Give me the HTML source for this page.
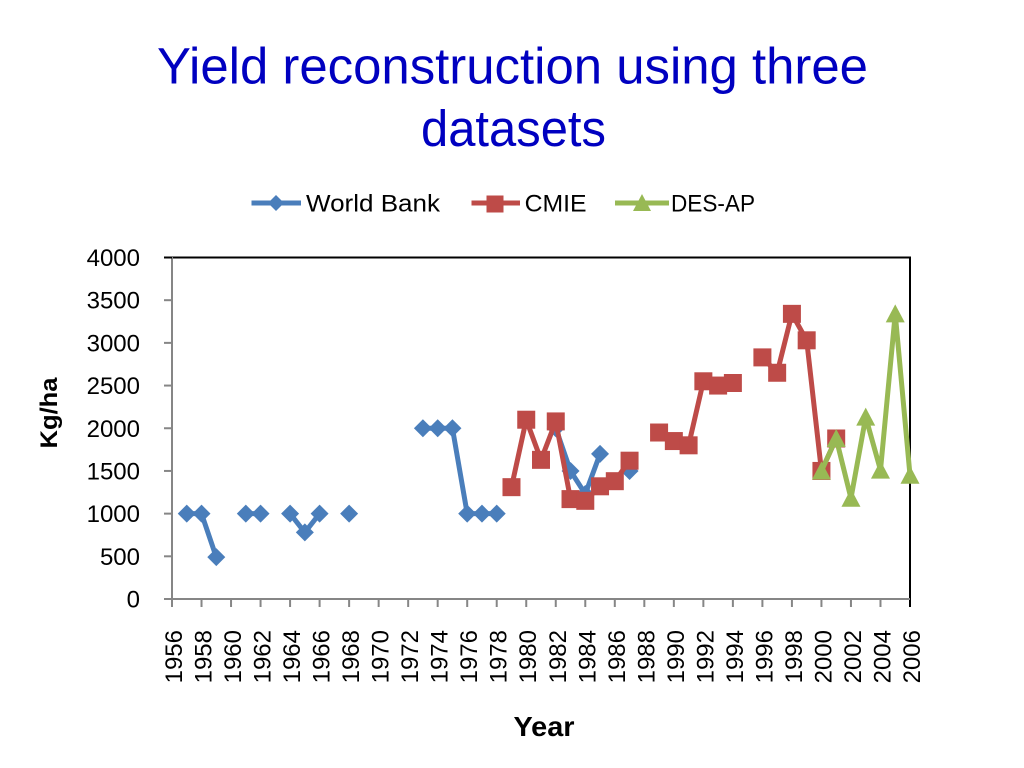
<!DOCTYPE html>
<html><head><meta charset="utf-8"><style>
html,body{margin:0;padding:0;background:#fff;width:1024px;height:768px;overflow:hidden}
svg{display:block}
text{font-family:"Liberation Sans",Arial,sans-serif}
</style></head><body>
<svg width="1024" height="768" viewBox="0 0 1024 768" xmlns="http://www.w3.org/2000/svg">
<defs>
<path id="d" d="M0,-9 L9,0 L0,9 L-9,0Z" fill="#4A7EBB"/>
<rect id="s" x="-9" y="-9" width="18" height="18" fill="#BE4B48"/>
<path id="t" d="M0,-9.5 L9.5,8.5 L-9.5,8.5Z" fill="#98B954"/>
<path id="dl" d="M0,-8 L8,0 L0,8 L-8,0Z" fill="#4A7EBB"/>
<rect id="sl" x="-8.5" y="-8.5" width="17" height="17" fill="#BE4B48"/>
<path id="tl" d="M0,-9 L9,8 L-9,8Z" fill="#98B954"/>
</defs>
<rect width="1024" height="768" fill="#fff"/>
<!-- Title -->
<text x="512.5" y="83.5" font-size="51" fill="#0000C0" text-anchor="middle" textLength="711" lengthAdjust="spacingAndGlyphs">Yield reconstruction using three</text>
<text x="513.5" y="146" font-size="51" fill="#0000C0" text-anchor="middle" textLength="185" lengthAdjust="spacingAndGlyphs">datasets</text>
<!-- Legend -->
<line x1="251.5" y1="203" x2="301" y2="203" stroke="#4A7EBB" stroke-width="5"/>
<use href="#dl" x="276" y="203"/>
<text x="306" y="211.5" font-size="24" fill="#000" textLength="134" lengthAdjust="spacingAndGlyphs">World Bank</text>
<line x1="471.5" y1="203" x2="520" y2="203" stroke="#BE4B48" stroke-width="5"/>
<use href="#sl" x="495" y="204"/>
<text x="524.6" y="211.5" font-size="24" fill="#000" textLength="62" lengthAdjust="spacingAndGlyphs">CMIE</text>
<line x1="615" y1="203" x2="669" y2="203" stroke="#98B954" stroke-width="5"/>
<use href="#tl" x="642" y="203"/>
<text x="671" y="211.5" font-size="24" fill="#000" textLength="84" lengthAdjust="spacingAndGlyphs">DES-AP</text>
<!-- Plot frame -->
<line x1="172" y1="257.5" x2="911" y2="257.5" stroke="#000" stroke-width="2"/>
<line x1="910" y1="257.5" x2="910" y2="607" stroke="#000" stroke-width="2"/>
<line x1="172" y1="257" x2="172" y2="600" stroke="#868686" stroke-width="2"/>
<line x1="171" y1="599" x2="910" y2="599" stroke="#868686" stroke-width="2"/>
<g stroke="#868686" stroke-width="2">
<line x1="164" y1="599" x2="172" y2="599"/>
<line x1="164" y1="556.31" x2="172" y2="556.31"/>
<line x1="164" y1="513.63" x2="172" y2="513.63"/>
<line x1="164" y1="470.94" x2="172" y2="470.94"/>
<line x1="164" y1="428.25" x2="172" y2="428.25"/>
<line x1="164" y1="385.56" x2="172" y2="385.56"/>
<line x1="164" y1="342.88" x2="172" y2="342.88"/>
<line x1="164" y1="300.19" x2="172" y2="300.19"/>
<line x1="164" y1="257.5" x2="172" y2="257.5" stroke="#000"/>
<line x1="172" y1="599" x2="172" y2="607"/>
<line x1="201.52" y1="599" x2="201.52" y2="607"/>
<line x1="231.04" y1="599" x2="231.04" y2="607"/>
<line x1="260.56" y1="599" x2="260.56" y2="607"/>
<line x1="290.08" y1="599" x2="290.08" y2="607"/>
<line x1="319.6" y1="599" x2="319.6" y2="607"/>
<line x1="349.12" y1="599" x2="349.12" y2="607"/>
<line x1="378.64" y1="599" x2="378.64" y2="607"/>
<line x1="408.16" y1="599" x2="408.16" y2="607"/>
<line x1="437.68" y1="599" x2="437.68" y2="607"/>
<line x1="467.2" y1="599" x2="467.2" y2="607"/>
<line x1="496.72" y1="599" x2="496.72" y2="607"/>
<line x1="526.24" y1="599" x2="526.24" y2="607"/>
<line x1="555.76" y1="599" x2="555.76" y2="607"/>
<line x1="585.28" y1="599" x2="585.28" y2="607"/>
<line x1="614.8" y1="599" x2="614.8" y2="607"/>
<line x1="644.32" y1="599" x2="644.32" y2="607"/>
<line x1="673.84" y1="599" x2="673.84" y2="607"/>
<line x1="703.36" y1="599" x2="703.36" y2="607"/>
<line x1="732.88" y1="599" x2="732.88" y2="607"/>
<line x1="762.4" y1="599" x2="762.4" y2="607"/>
<line x1="791.92" y1="599" x2="791.92" y2="607"/>
<line x1="821.44" y1="599" x2="821.44" y2="607"/>
<line x1="850.96" y1="599" x2="850.96" y2="607"/>
<line x1="880.48" y1="599" x2="880.48" y2="607"/>
</g>
<!-- Y labels -->
<g font-size="24" fill="#000" text-anchor="end">
<text x="140" y="607.5">0</text>
<text x="140" y="564.8">500</text>
<text x="140" y="522.1">1000</text>
<text x="140" y="479.4">1500</text>
<text x="140" y="436.8">2000</text>
<text x="140" y="394.1">2500</text>
<text x="140" y="351.4">3000</text>
<text x="140" y="308.7">3500</text>
<text x="140" y="266">4000</text>
</g>
<!-- X labels -->
<g font-size="24" fill="#000" text-anchor="end">
<text transform="translate(182,630) rotate(-90)">1956</text>
<text transform="translate(211.52,630) rotate(-90)">1958</text>
<text transform="translate(241.04,630) rotate(-90)">1960</text>
<text transform="translate(270.56,630) rotate(-90)">1962</text>
<text transform="translate(300.08,630) rotate(-90)">1964</text>
<text transform="translate(329.6,630) rotate(-90)">1966</text>
<text transform="translate(359.12,630) rotate(-90)">1968</text>
<text transform="translate(388.64,630) rotate(-90)">1970</text>
<text transform="translate(418.16,630) rotate(-90)">1972</text>
<text transform="translate(447.68,630) rotate(-90)">1974</text>
<text transform="translate(477.2,630) rotate(-90)">1976</text>
<text transform="translate(506.72,630) rotate(-90)">1978</text>
<text transform="translate(536.24,630) rotate(-90)">1980</text>
<text transform="translate(565.76,630) rotate(-90)">1982</text>
<text transform="translate(595.28,630) rotate(-90)">1984</text>
<text transform="translate(624.8,630) rotate(-90)">1986</text>
<text transform="translate(654.32,630) rotate(-90)">1988</text>
<text transform="translate(683.84,630) rotate(-90)">1990</text>
<text transform="translate(713.36,630) rotate(-90)">1992</text>
<text transform="translate(742.88,630) rotate(-90)">1994</text>
<text transform="translate(772.4,630) rotate(-90)">1996</text>
<text transform="translate(801.92,630) rotate(-90)">1998</text>
<text transform="translate(831.44,630) rotate(-90)">2000</text>
<text transform="translate(860.96,630) rotate(-90)">2002</text>
<text transform="translate(890.48,630) rotate(-90)">2004</text>
<text transform="translate(920,630) rotate(-90)">2006</text>
</g>
<!-- Axis titles -->
<text x="544" y="736" font-size="28" font-weight="bold" fill="#000" text-anchor="middle" textLength="61" lengthAdjust="spacingAndGlyphs">Year</text>
<text transform="translate(57,413) rotate(-90)" font-size="24" font-weight="bold" fill="#000" text-anchor="middle" textLength="71" lengthAdjust="spacingAndGlyphs">Kg/ha</text>
<!-- World Bank -->
<g fill="none" stroke="#4A7EBB" stroke-width="5" stroke-linejoin="round">
<polyline points="186.76,513.63 201.52,513.63 216.28,557.17"/>
<polyline points="245.8,513.63 260.56,513.63"/>
<polyline points="290.08,513.63 304.84,532.41 319.6,513.63"/>
<polyline points="422.92,428.25 437.68,428.25 452.44,428.25 467.2,513.63 481.96,513.63 496.72,513.63"/>
<polyline points="555.76,428.25 570.52,470.94 585.28,493.99 600.04,453.86"/>
</g>
<use href="#d" x="186.76" y="513.63"/><use href="#d" x="201.52" y="513.63"/><use href="#d" x="216.28" y="557.17"/>
<use href="#d" x="245.8" y="513.63"/><use href="#d" x="260.56" y="513.63"/>
<use href="#d" x="290.08" y="513.63"/><use href="#d" x="304.84" y="532.41"/><use href="#d" x="319.6" y="513.63"/>
<use href="#d" x="349.12" y="513.63"/>
<use href="#d" x="422.92" y="428.25"/><use href="#d" x="437.68" y="428.25"/><use href="#d" x="452.44" y="428.25"/>
<use href="#d" x="467.2" y="513.63"/><use href="#d" x="481.96" y="513.63"/><use href="#d" x="496.72" y="513.63"/>
<use href="#d" x="555.76" y="428.25"/><use href="#d" x="570.52" y="470.94"/><use href="#d" x="585.28" y="493.99"/><use href="#d" x="600.04" y="453.86"/>
<use href="#d" x="629.56" y="470.94"/>
<!-- CMIE -->
<g fill="none" stroke="#BE4B48" stroke-width="5" stroke-linejoin="round">
<polyline points="511.48,487.16 526.24,419.71 541,459.84 555.76,421.42 570.52,499.11 585.28,500.82 600.04,486.3 614.8,481.18 629.56,460.69"/>
<polyline points="659.08,432.52 673.84,441.06 688.6,445.32 703.36,381.29 718.12,385.56 732.88,383"/>
<polyline points="762.4,357.39 777.16,372.76 791.92,313.85 806.68,340.31 821.44,470.94 836.2,438.49"/>
</g>
<use href="#s" x="511.48" y="487.16"/><use href="#s" x="526.24" y="419.71"/><use href="#s" x="541" y="459.84"/>
<use href="#s" x="555.76" y="421.42"/><use href="#s" x="570.52" y="499.11"/><use href="#s" x="585.28" y="500.82"/>
<use href="#s" x="600.04" y="486.3"/><use href="#s" x="614.8" y="481.18"/><use href="#s" x="629.56" y="460.69"/>
<use href="#s" x="659.08" y="432.52"/><use href="#s" x="673.84" y="441.06"/><use href="#s" x="688.6" y="445.32"/>
<use href="#s" x="703.36" y="381.29"/><use href="#s" x="718.12" y="385.56"/><use href="#s" x="732.88" y="383"/>
<use href="#s" x="762.4" y="357.39"/><use href="#s" x="777.16" y="372.76"/><use href="#s" x="791.92" y="313.85"/>
<use href="#s" x="806.68" y="340.31"/><use href="#s" x="821.44" y="470.94"/><use href="#s" x="836.2" y="438.49"/>
<!-- DES-AP -->
<polyline fill="none" stroke="#98B954" stroke-width="5" stroke-linejoin="round" points="821.44,470.94 836.2,438.49 850.96,498.26 865.72,417.15 880.48,470.08 895.24,313.85 910,475.21"/>
<use href="#t" x="821.44" y="470.94"/><use href="#t" x="836.2" y="438.49"/><use href="#t" x="850.96" y="498.26"/>
<use href="#t" x="865.72" y="417.15"/><use href="#t" x="880.48" y="470.08"/><use href="#t" x="895.24" y="313.85"/>
<use href="#t" x="910" y="475.21"/>
</svg>
</body></html>
